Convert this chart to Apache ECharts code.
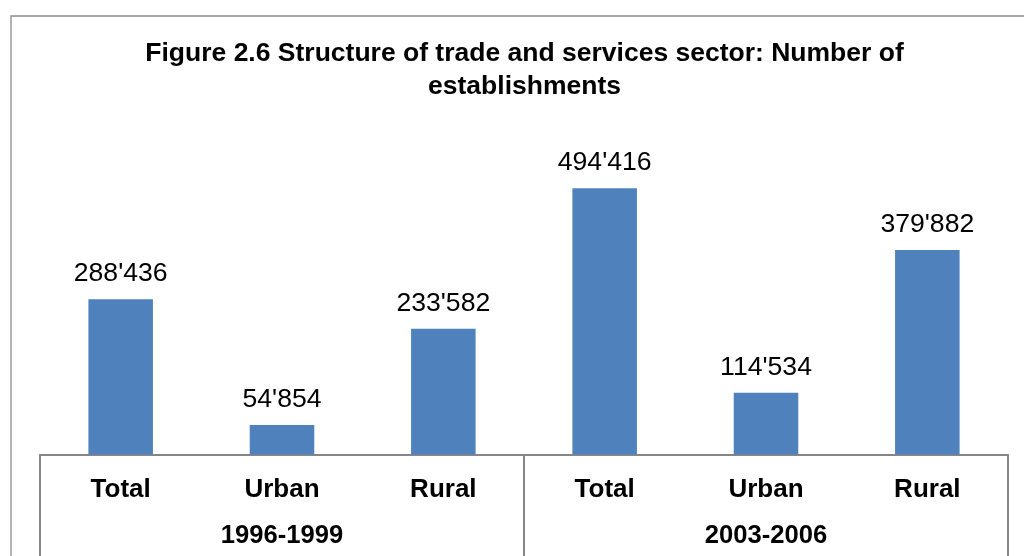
<!DOCTYPE html>
<html>
<head>
<meta charset="utf-8">
<script src="https://cdn.jsdelivr.net/npm/echarts@6/dist/echarts.min.js"></script>
<style>
  html, body { margin: 0; padding: 0; background: #fff; }
  #chart { width: 1024px; height: 556px; }
</style>
</head>
<body>
<div id="chart"></div>
<script>
// Establishments in the trade and services sector, by area and period
const categories = ['Total', 'Urban', 'Rural', 'Total', 'Urban', 'Rural'];
const periods = ['1996-1999', '2003-2006'];
const establishments = [288436, 54854, 233582, 494416, 114534, 379882];
const titleText = 'Figure 2.6 Structure of trade and services sector: Number of\nestablishments';

const FONT = "'Liberation Sans', Arial, sans-serif";
const GRAY = '#868686';

// 288436 -> 288'436
function withApostrophe(v) {
  return String(v).replace(/\B(?=(\d{3})+(?!\d))/g, "'");
}

const chart = echarts.init(document.getElementById('chart'));
chart.setOption({
  backgroundColor: '#fff',
  animation: false,
  graphic: [{
    type: 'rect',
    shape: { x: 11, y: 16, width: 1100, height: 600 },
    style: { fill: 'none', stroke: '#8c8c8c', lineWidth: 1.3 },
    silent: true,
    z: -1
  }, {
    // chart heading, centred over the plot area
    type: 'text',
    x: 524.5,
    y: 37,
    silent: true,
    style: {
      text: titleText,
      align: 'center',
      verticalAlign: 'top',
      font: "bold 26.5px 'Liberation Sans', Arial, sans-serif",
      lineHeight: 33,
      fill: '#000'
    }
  }],
  grid: { left: 40, right: 16, top: 131.5, bottom: 101.5 },
  xAxis: [{
    type: 'category',
    data: categories,
    position: 'bottom',
    axisLine: { show: true, lineStyle: { color: GRAY, width: 2 } },
    axisTick: { show: false },
    axisLabel: {
      margin: 22,
      fontFamily: FONT,
      fontSize: 26,
      fontWeight: 'bold',
      color: '#000',
      lineHeight: 26
    }
  }, {
    type: 'category',
    data: periods,
    position: 'bottom',
    axisLine: { show: false },
    axisTick: {
      show: true,
      inside: false,
      length: 104,
      lineStyle: { color: GRAY, width: 2 }
    },
    axisLabel: {
      margin: 68,
      fontFamily: FONT,
      fontSize: 25.6,
      fontWeight: 'bold',
      color: '#000',
      lineHeight: 26
    }
  }],
  yAxis: {
    type: 'value',
    min: 0,
    max: 600000,
    show: false,
    splitLine: { show: false }
  },
  series: [{
    type: 'bar',
    xAxisIndex: 0,
    data: establishments,
    barCategoryGap: '60%',
    itemStyle: { color: '#4F81BD' },
    label: {
      show: true,
      position: 'top',
      distance: 12,
      fontFamily: FONT,
      fontSize: 26.6,
      color: '#000',
      formatter: p => withApostrophe(p.value)
    }
  }]
});
</script>
</body>
</html>
